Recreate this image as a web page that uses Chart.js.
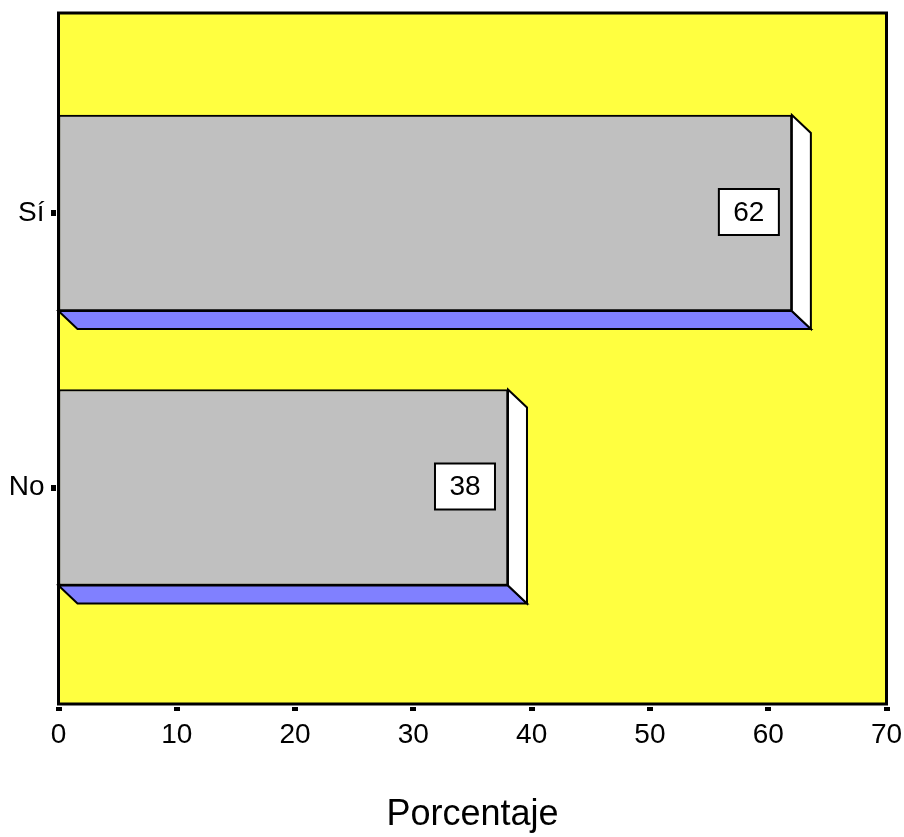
<!DOCTYPE html>
<html>
<head>
<meta charset="utf-8">
<script src="https://cdn.jsdelivr.net/npm/chart.js@4/dist/chart.umd.min.js"></script>
<style>
  html, body { margin: 0; padding: 0; background: #ffffff; }
  #wrap { width: 904px; height: 837px; }
</style>
</head>
<body>
<div id="wrap"><canvas id="c" width="904" height="837"></canvas></div>
<script>
const categories = ['Sí', 'No'];
const percentages = [62, 38];
const xTickValues = [0, 10, 20, 30, 40, 50, 60, 70];
const axisTitle = 'Porcentaje';

const FONT = '"Liberation Sans", Arial, sans-serif';
const YELLOW = '#ffff40';
const GRAY = '#c0c0c0';
const BLUE = '#8080ff';
const DX = 19, DY = 18;

const plotBg = {
  id: 'plotBg',
  beforeDatasetsDraw(chart) {
    const a = chart.chartArea, ctx = chart.ctx;
    ctx.save();
    ctx.fillStyle = YELLOW;
    ctx.fillRect(a.left, a.top, a.right - a.left, a.bottom - a.top);
    ctx.restore();
  }
};

const bars3d = {
  id: 'bars3d',
  afterDatasetsDraw(chart) {
    const ctx = chart.ctx;
    const meta = chart.getDatasetMeta(0);
    ctx.save();
    ctx.lineWidth = 2;
    ctx.strokeStyle = '#000';
    ctx.lineJoin = 'miter';
    meta.data.forEach((bar, i) => {
      const p = bar.getProps(['x', 'y', 'base', 'height'], true);
      const top = p.y - p.height / 2, bottom = p.y + p.height / 2;
      const x0 = p.base, x1 = p.x;
      ctx.beginPath();
      ctx.moveTo(x0, bottom);
      ctx.lineTo(x1, bottom);
      ctx.lineTo(x1 + DX, bottom + DY);
      ctx.lineTo(x0 + DX, bottom + DY);
      ctx.closePath();
      ctx.fillStyle = BLUE;
      ctx.fill();
      ctx.stroke();
      ctx.beginPath();
      ctx.moveTo(x1, top);
      ctx.lineTo(x1 + DX, top + DY);
      ctx.lineTo(x1 + DX, bottom + DY);
      ctx.lineTo(x1, bottom);
      ctx.closePath();
      ctx.fillStyle = '#ffffff';
      ctx.fill();
      ctx.stroke();
      const bw = 60, bh = 46;
      const bx = x1 - 13 - bw, by = p.y - 1 - bh / 2;
      ctx.fillStyle = '#ffffff';
      ctx.fillRect(bx, by, bw, bh);
      ctx.lineWidth = 2;
      ctx.strokeRect(bx, by, bw, bh);
      ctx.fillStyle = '#000';
      ctx.font = '28px ' + FONT;
      ctx.textAlign = 'center';
      ctx.textBaseline = 'middle';
      ctx.fillText(String(percentages[i]), bx + bw / 2, by + bh / 2 + 1);
    });
    ctx.restore();
  }
};

const frame = {
  id: 'frame',
  afterDraw(chart) {
    const a = chart.chartArea, ctx = chart.ctx;
    ctx.save();
    ctx.lineWidth = 3;
    ctx.strokeStyle = '#000';
    ctx.strokeRect(a.left, a.top, a.right - a.left, a.bottom - a.top);
    ctx.fillStyle = '#000';
    const xs = chart.scales.x, ys = chart.scales.y;
    xTickValues.forEach(v => {
      const px = xs.getPixelForValue(v);
      ctx.fillRect(Math.round(px - 3), a.bottom + 3, 6, 4);
    });
    categories.forEach((c, i) => {
      const py = ys.getPixelForValue(i);
      ctx.fillRect(a.left - 7.5, Math.round(py - 3), 5, 6);
    });
    ctx.restore();
  }
};

new Chart(document.getElementById('c'), {
  type: 'bar',
  data: {
    datasets: [{
      data: percentages.map((v, i) => ({ x: v, y: i })),
      backgroundColor: GRAY,
      borderColor: '#000',
      borderWidth: 2,
      borderSkipped: false,
      barThickness: 196
    }]
  },
  options: {
    indexAxis: 'y',
    responsive: false,
    animation: false,
    layout: { padding: { top: 13, right: 17.5, left: 0, bottom: 0 } },
    plugins: { legend: { display: false }, tooltip: { enabled: false } },
    scales: {
      x: {
        type: 'linear',
        min: 0, max: 70,
        afterBuildTicks(s) { s.ticks = xTickValues.map(v => ({ value: v })); },
        afterFit(s) { s.height = 133; s.paddingLeft = 0; s.paddingRight = 0; },
        grid: { display: false, drawTicks: false },
        border: { display: false },
        ticks: { color: '#000', padding: 14, font: { family: FONT, size: 28 } },
        title: { display: true, text: axisTitle, color: '#000', padding: 0, font: { family: FONT, size: 36 } }
      },
      y: {
        type: 'linear',
        reverse: true,
        offset: false,
        bounds: 'data',
        min: -0.7286, max: 1.7887,
        afterBuildTicks(s) { s.ticks = categories.map((c, i) => ({ value: i })); },
        afterDataLimits(s) { s.min = -0.7286; s.max = 1.7887; },
        afterFit(s) { s.width = 58.5; s.paddingTop = 0; s.paddingBottom = 0; },
        grid: { display: false, drawTicks: false, offset: false },
        border: { display: false },
        ticks: { color: '#000', padding: 14, font: { family: FONT, size: 28, lineHeight: 0.1 }, callback: (v) => categories[v] }
      }
    }
  },
  plugins: [plotBg, bars3d, frame]
});
</script>
</body>
</html>
